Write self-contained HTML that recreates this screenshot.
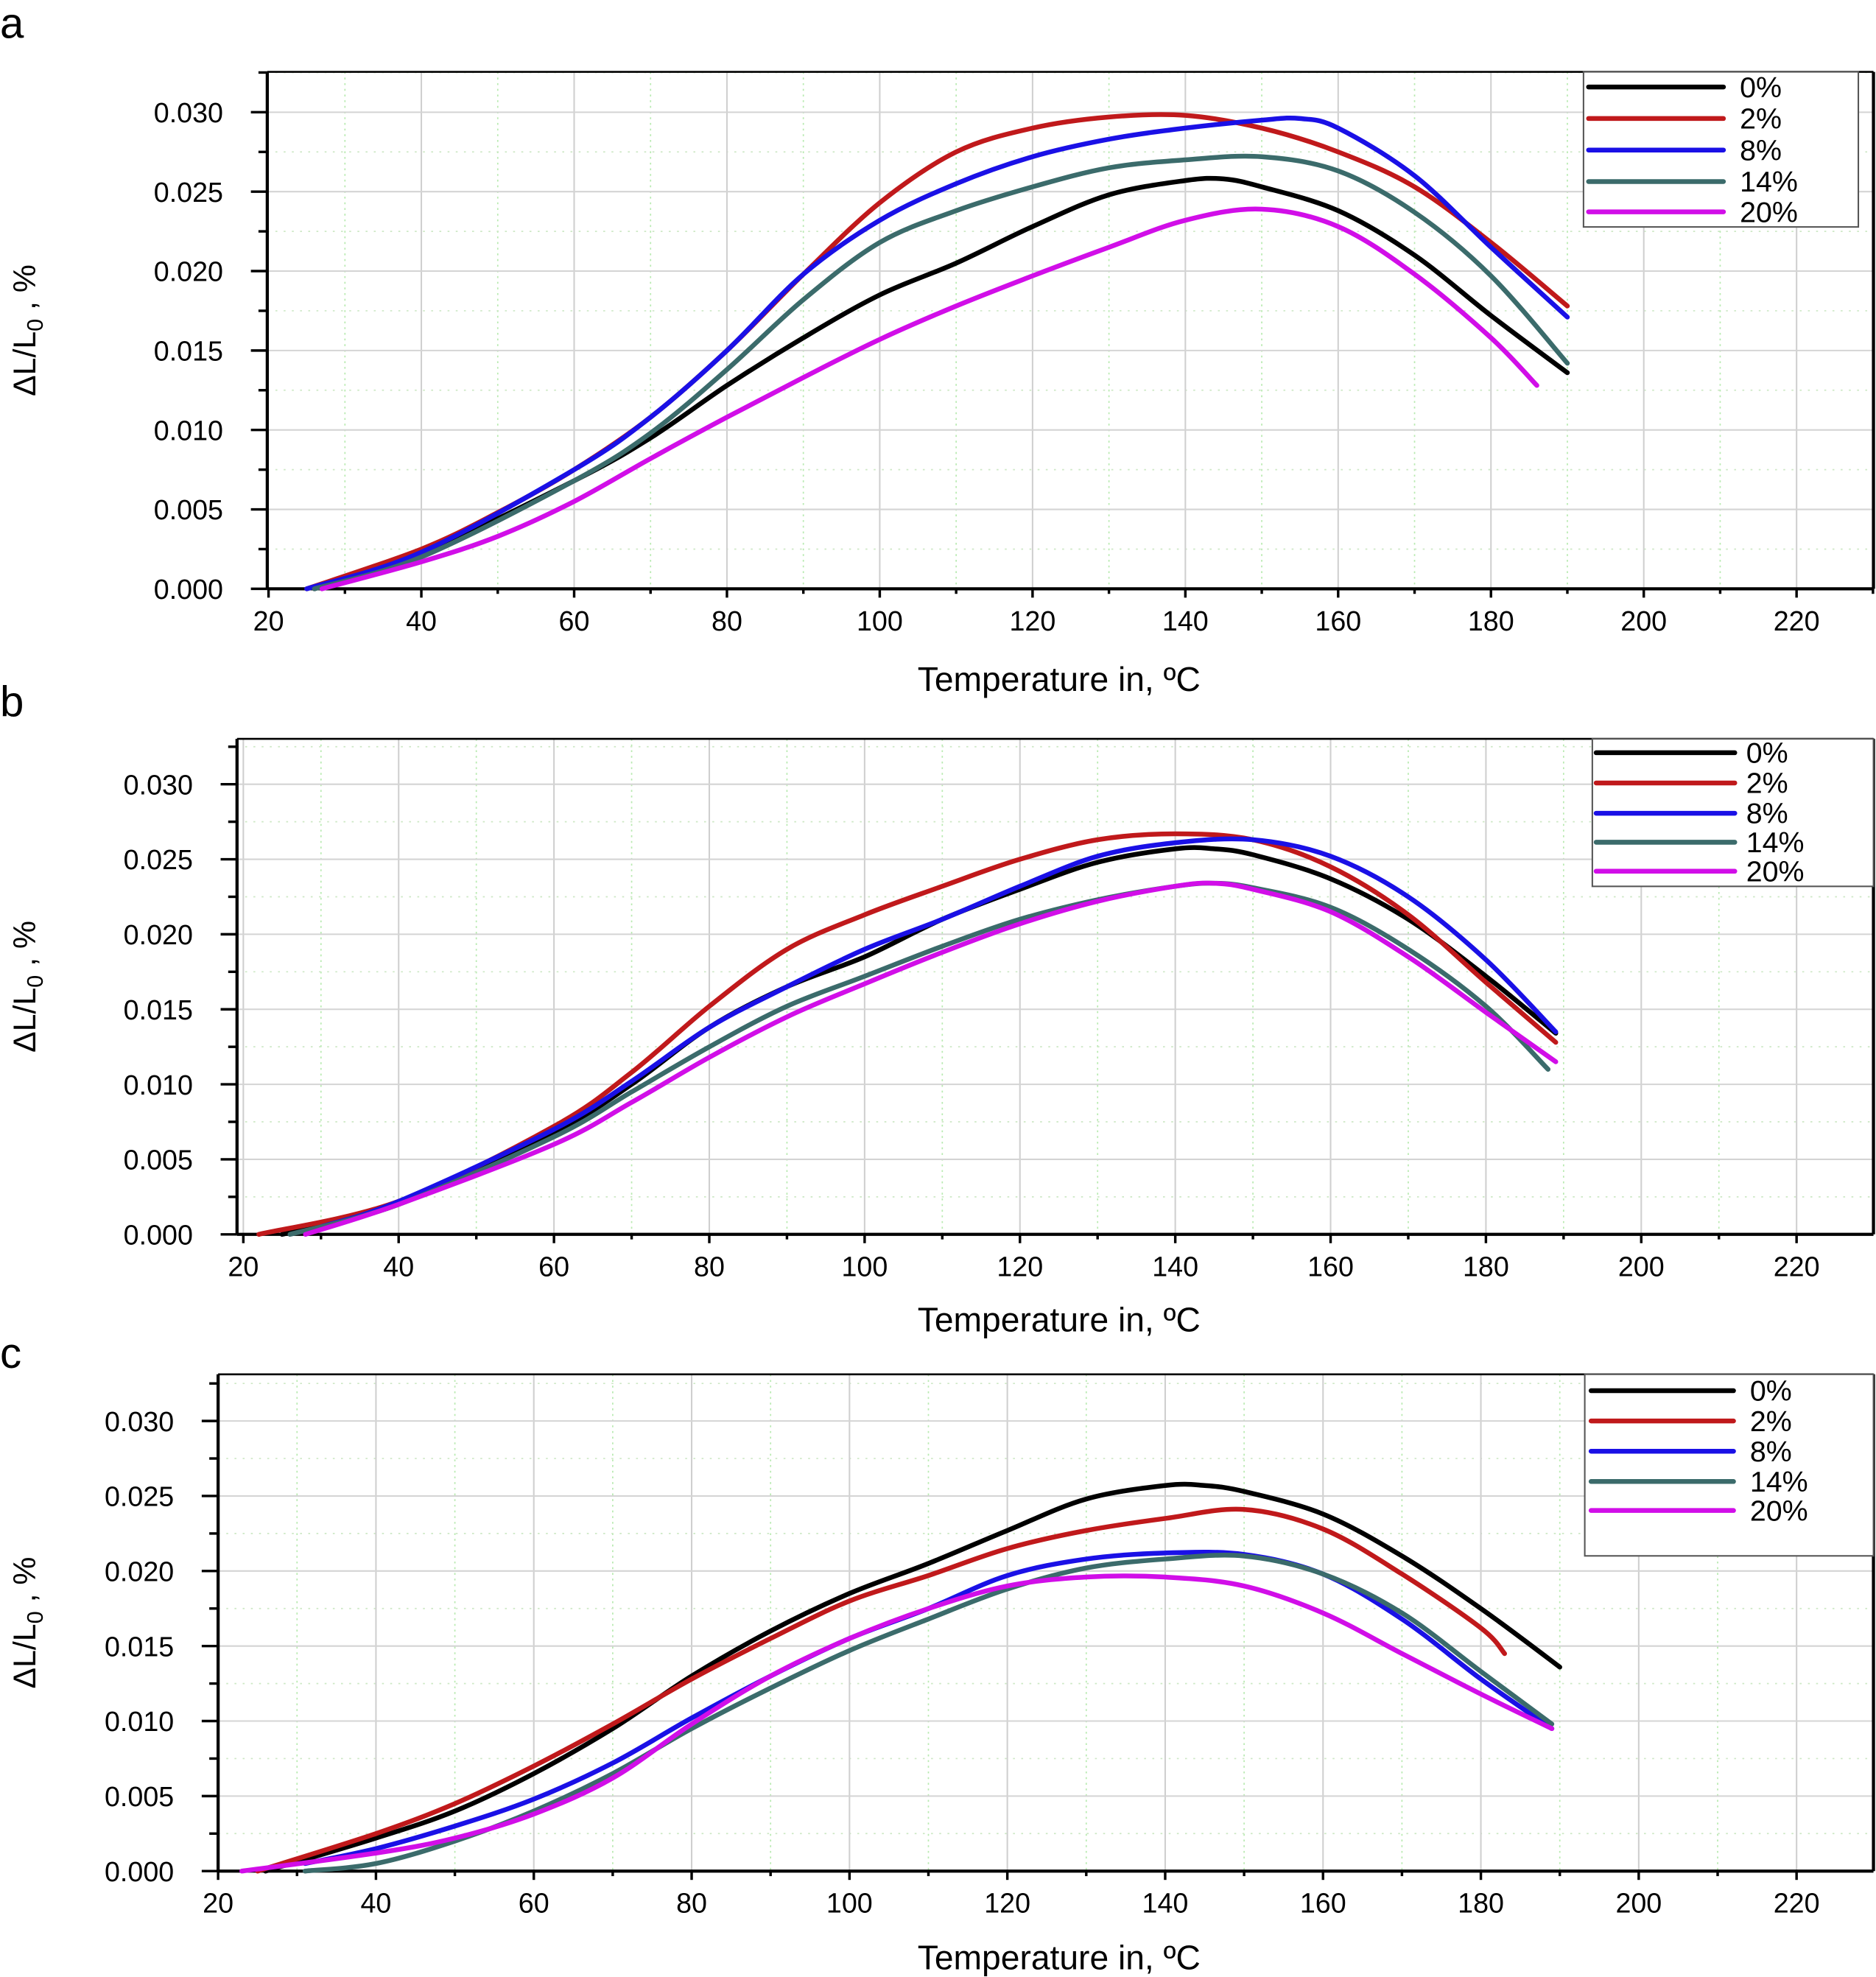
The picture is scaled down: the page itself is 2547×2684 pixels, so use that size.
<!DOCTYPE html>
<html><head><meta charset="utf-8"><style>
html,body{margin:0;padding:0;background:#fff;}
svg{display:block;font-family:"Liberation Sans",sans-serif;}
</style></head><body>
<svg id="chart" xmlns="http://www.w3.org/2000/svg" width="2547" height="2684" viewBox="0 0 1488 1568" preserveAspectRatio="none"></svg>
<script>
const xTicks=[20,40,60,80,100,120,140,160,180,200,220];
const yTicks=[0,0.005,0.010,0.015,0.020,0.025,0.030];
const yTickLabels=["0.000","0.005","0.010","0.015","0.020","0.025","0.030"];
const seriesNames=["0%","2%","8%","14%","20%"];
const seriesColors=["#000000","#c0191b","#1a10e6","#3b6b6b","#d10ee8"];

const aT0=[26,40,60,70,80,90,100,110,120,130,140,145,150,160,170,180,190];
const aV0=[0,0.0022,0.0068,0.0095,0.0128,0.0158,0.0185,0.0205,0.0228,0.0248,0.0257,0.0258,0.0253,0.0238,0.021,0.0172,0.0136];
const aT1=[25,40,50,60,70,80,90,100,110,120,130,140,150,160,170,180,190];
const aV1=[0,0.0025,0.0048,0.0075,0.0108,0.015,0.0198,0.0243,0.0275,0.029,0.0297,0.0298,0.029,0.0275,0.0253,0.0218,0.0178];
const aT2=[25,40,60,70,80,90,100,110,120,130,140,150,155,160,170,180,190];
const aV2=[0,0.0023,0.0075,0.0108,0.015,0.0198,0.0232,0.0255,0.0272,0.0283,0.029,0.0295,0.0296,0.029,0.026,0.0215,0.0171];
const aT3=[26,40,60,70,80,90,100,110,120,130,140,150,160,170,180,190];
const aV3=[0,0.002,0.0068,0.0098,0.0138,0.0182,0.0218,0.0238,0.0253,0.0265,0.027,0.0272,0.0263,0.0237,0.0197,0.0142];
const aT4=[27,40,50,60,70,80,90,100,110,120,130,140,150,160,170,180,186];
const aV4=[0,0.0017,0.0033,0.0055,0.0082,0.0108,0.0133,0.0157,0.0178,0.0197,0.0215,0.0232,0.0239,0.0228,0.0198,0.0158,0.0128];

const bT0=[25,40,60,70,80,90,100,110,120,130,140,145,150,160,170,180,189];
const bV0=[0,0.002,0.0068,0.01,0.0138,0.0165,0.0185,0.021,0.023,0.0248,0.0257,0.0257,0.0253,0.0237,0.021,0.0172,0.0134];
const bT1=[22,40,60,70,80,90,100,110,120,130,140,150,160,170,180,189];
const bV1=[0,0.0022,0.0072,0.0108,0.0152,0.019,0.0213,0.0232,0.025,0.0263,0.0267,0.0263,0.0245,0.0213,0.0168,0.0128];
const bT2=[30,40,60,70,80,90,100,110,120,130,140,150,160,170,180,189];
const bV2=[0.0005,0.0022,0.007,0.0102,0.0138,0.0165,0.019,0.021,0.0232,0.0252,0.0261,0.0263,0.0252,0.0225,0.0183,0.0135];
const bT3=[26,40,60,70,80,90,100,110,120,130,140,145,150,160,170,180,188];
const bV3=[0,0.002,0.0065,0.0095,0.0125,0.0152,0.0172,0.0192,0.021,0.0223,0.0232,0.0234,0.0231,0.0218,0.019,0.0152,0.011];
const bT4=[28,40,60,70,80,90,100,110,120,130,140,145,150,160,170,180,189];
const bV4=[0,0.002,0.006,0.0088,0.0118,0.0145,0.0167,0.0188,0.0207,0.0222,0.0232,0.0234,0.023,0.0215,0.0185,0.0148,0.0115];

const cT0=[26,40,50,60,70,80,90,100,110,120,130,140,145,150,160,170,180,190];
const cV0=[0,0.0022,0.004,0.0065,0.0095,0.013,0.016,0.0185,0.0205,0.0227,0.0248,0.0257,0.0257,0.0253,0.0238,0.021,0.0175,0.0136];
const cT1=[25,40,50,60,70,80,90,100,110,120,130,140,150,160,170,180,183];
const cV1=[0,0.0025,0.0045,0.007,0.0098,0.0128,0.0155,0.018,0.0197,0.0215,0.0227,0.0235,0.0241,0.0228,0.0198,0.0162,0.0145];
const cT2=[31,40,50,60,70,80,90,100,110,120,130,140,150,160,170,180,189];
const cV2=[0.0005,0.0015,0.003,0.0048,0.0072,0.0102,0.013,0.0155,0.0175,0.0197,0.0208,0.0212,0.0211,0.0198,0.0168,0.0128,0.0095];
const cT3=[31,40,50,60,70,80,90,100,110,120,130,140,150,160,170,180,189];
const cV3=[0,0.0005,0.002,0.004,0.0065,0.0095,0.0122,0.0147,0.0168,0.0188,0.0202,0.0208,0.021,0.0198,0.0172,0.0133,0.0098];
const cT4=[23,40,50,60,70,80,90,100,110,120,130,140,150,160,170,180,189];
const cV4=[0,0.0012,0.0022,0.0038,0.0062,0.0098,0.013,0.0155,0.0175,0.019,0.0196,0.0196,0.019,0.0172,0.0145,0.0118,0.0095];

const NS="http://www.w3.org/2000/svg";
const svg=document.getElementById('chart');
function mk(tag,attrs,parent){const e=document.createElementNS(NS,tag);for(const k in attrs)e.setAttribute(k,attrs[k]);(parent||svg).appendChild(e);return e;}

const panels=[
 {id:'a',letter:'a',left:212,right:1486,top:57,bottom:467,x20:213,x220:1425,y0:467,y30:89,
  leg:[1256,57,1474,180],rows:[69,94,119,144,168],lineX:[1260,1367],labX:1380,
  T:[aT0,aT1,aT2,aT3,aT4],V:[aV0,aV1,aV2,aV3,aV4],letterY:30,titleY:548,ytitleX:28},
 {id:'b',letter:'b',left:188,right:1486,top:586,bottom:979,x20:193,x220:1425,y0:979,y30:622,
  leg:[1263,586,1486,703],rows:[597,621,645,668,691],lineX:[1266,1376],labX:1385,
  T:[bT0,bT1,bT2,bT3,bT4],V:[bV0,bV1,bV2,bV3,bV4],letterY:568,titleY:1056,ytitleX:28},
 {id:'c',letter:'c',left:173,right:1486,top:1090,bottom:1484,x20:173,x220:1425,y0:1484,y30:1127,
  leg:[1257,1090,1486,1234],rows:[1103,1127,1151,1175,1198],lineX:[1262,1375],labX:1388,
  T:[cT0,cT1,cT2,cT3,cT4],V:[cV0,cV1,cV2,cV3,cV4],letterY:1085,titleY:1562,ytitleX:28}
];

function smoothPath(pts){
 let d='M'+pts[0][0].toFixed(1)+','+pts[0][1].toFixed(1);
 for(let i=0;i<pts.length-1;i++){
  const p0=pts[i-1]||pts[i],p1=pts[i],p2=pts[i+1],p3=pts[i+2]||p2;
  const c1=[p1[0]+(p2[0]-p0[0])/6,p1[1]+(p2[1]-p0[1])/6];
  const c2=[p2[0]-(p3[0]-p1[0])/6,p2[1]-(p3[1]-p1[1])/6];
  d+=' C'+c1[0].toFixed(1)+','+c1[1].toFixed(1)+' '+c2[0].toFixed(1)+','+c2[1].toFixed(1)+' '+p2[0].toFixed(1)+','+p2[1].toFixed(1);
 }
 return d;
}

panels.forEach(p=>{
 const xs=t=>p.x20+(t-20)*(p.x220-p.x20)/200;
 const ys=v=>p.y0-(v/0.03)*(p.y0-p.y30);
 const g=mk('g',{});
 
 
 const lt=mk('text',{x:0,y:p.letterY,'font-size':34,fill:'#000'},g);lt.textContent=p.letter;
 
 
 for(let t=30;t<=230;t+=20){const x=xs(t);if(x>p.left&&x<p.right)mk('line',{x1:x,y1:p.top,x2:x,y2:p.bottom,stroke:'#b8eab0','stroke-width':1,'stroke-dasharray':'1.5,3'},g);}
 for(let v=0.0025;v<0.0335;v+=0.005){const y=ys(v);if(y>p.top)mk('line',{x1:p.left,y1:y,x2:p.right,y2:y,stroke:'#cde8c5','stroke-width':1,'stroke-dasharray':'1.5,5'},g);}
 xTicks.forEach(t=>{const x=xs(t);if(x>p.left+2)mk('line',{x1:x,y1:p.top,x2:x,y2:p.bottom,stroke:'#cfcfcf','stroke-width':1.2},g);});
 yTicks.forEach(v=>{const y=ys(v);if(v>0)mk('line',{x1:p.left,y1:y,x2:p.right,y2:y,stroke:'#d4d4d4','stroke-width':1.2},g);});
 mk('line',{x1:p.left,y1:p.top,x2:p.right,y2:p.top,stroke:'#000','stroke-width':1.5},g);
 mk('line',{x1:p.right,y1:p.top,x2:p.right,y2:p.bottom,stroke:'#000','stroke-width':2.5},g);
 mk('line',{x1:p.left,y1:p.bottom,x2:p.right,y2:p.bottom,stroke:'#000','stroke-width':2.5},g);
 mk('line',{x1:p.left,y1:p.top,x2:p.left,y2:p.bottom,stroke:'#000','stroke-width':2.5},g);
 yTicks.forEach((v,i)=>{const y=ys(v);
  mk('line',{x1:p.left-13,y1:y,x2:p.left,y2:y,stroke:'#000','stroke-width':2},g);
  const tx=mk('text',{x:p.left-35,y:y+8,'font-size':22,'text-anchor':'end',fill:'#000'},g);tx.textContent=yTickLabels[i];
  
  
 });
 for(let v=0.0025;v<0.0335;v+=0.005){const y=ys(v);if(y>p.top)mk('line',{x1:p.left-7,y1:y,x2:p.left,y2:y,stroke:'#000','stroke-width':2},g);}
 xTicks.forEach(t=>{const x=xs(t);
  mk('line',{x1:x,y1:p.bottom,x2:x,y2:p.bottom+7,stroke:'#000','stroke-width':2},g);
  const tx=mk('text',{x:x,y:p.bottom+33,'font-size':22,'text-anchor':'middle',fill:'#000'},g);tx.textContent=t;
  
  
 });
 for(let t=30;t<=230;t+=20){const x=xs(t);if(x<p.right)mk('line',{x1:x,y1:p.bottom,x2:x,y2:p.bottom+4,stroke:'#000','stroke-width':2},g);}
 const xt=mk('text',{x:840,y:p.titleY,'font-size':27,'text-anchor':'middle',fill:'#000'},g);xt.textContent='Temperature in, ºC';
 
 
 const cy=(p.top+p.bottom)/2;
 const yt=mk('text',{x:0,y:0,'font-size':25,'text-anchor':'middle',fill:'#000',transform:'translate('+p.ytitleX+','+cy+') rotate(-90)'},g);
 yt.innerHTML='ΔL/L<tspan font-size="18" dy="6">0</tspan><tspan dy="-6"> , %</tspan>';
 
 
 p.T.forEach((T,i)=>{
  const pts=T.map((t,j)=>[xs(t),ys(p.V[i][j])]);
  const path=mk('path',{d:smoothPath(pts),fill:'none',stroke:seriesColors[i],'stroke-width':3.8,'stroke-linejoin':'round','stroke-linecap':'round'},g);
  
  
 });
 const L=p.leg;
 const lg=mk('g',{},g);
 
 
 mk('rect',{x:L[0],y:L[1],width:L[2]-L[0],height:L[3]-L[1],fill:'#fff',stroke:'#555','stroke-width':1.2},lg);
 seriesNames.forEach((n,i)=>{
  const y=p.rows[i];
  const e=mk('g',{},lg);
  
  
  mk('line',{x1:p.lineX[0],y1:y,x2:p.lineX[1],y2:y,stroke:seriesColors[i],'stroke-width':3.8,'stroke-linecap':'round'},e);
  const tx=mk('text',{x:p.labX,y:y+8,'font-size':23,fill:'#000'},e);tx.textContent=n;
 });
});
</script>
</body></html>
